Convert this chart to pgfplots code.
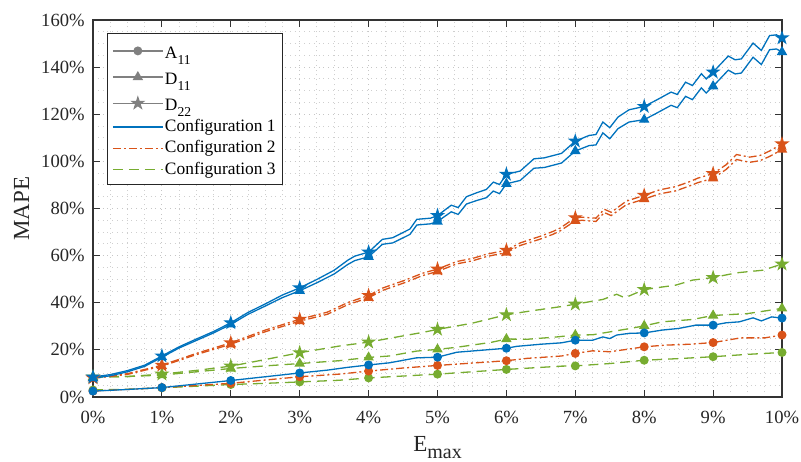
\documentclass[border=0pt]{standalone}
\usepackage{pgfplots}
\usepackage{pgfplotstable}
\pgfplotsset{compat=1.18}
\usepackage{fontspec}
\setmainfont{Liberation Serif}
\definecolor{c1}{RGB}{0,114,189}
\definecolor{c2}{RGB}{217,83,25}
\definecolor{c3}{RGB}{119,172,48}
\definecolor{lg}{RGB}{128,128,128}
\newcommand{\sub}[1]{\raisebox{-3pt}{\fontsize{6.8}{7}\selectfont #1}}
\pgfdeclareplotmark{fstar}{%
  \pgfpathmoveto{\pgfpointpolar{90}{\pgfplotmarksize}}%
  \pgfpathlineto{\pgfpointpolar{126}{0.382\pgfplotmarksize}}%
  \pgfpathlineto{\pgfpointpolar{162}{\pgfplotmarksize}}%
  \pgfpathlineto{\pgfpointpolar{198}{0.382\pgfplotmarksize}}%
  \pgfpathlineto{\pgfpointpolar{234}{\pgfplotmarksize}}%
  \pgfpathlineto{\pgfpointpolar{270}{0.382\pgfplotmarksize}}%
  \pgfpathlineto{\pgfpointpolar{306}{\pgfplotmarksize}}%
  \pgfpathlineto{\pgfpointpolar{342}{0.382\pgfplotmarksize}}%
  \pgfpathlineto{\pgfpointpolar{18}{\pgfplotmarksize}}%
  \pgfpathlineto{\pgfpointpolar{54}{0.382\pgfplotmarksize}}%
  \pgfpathclose
  \pgfusepathqfillstroke
}
% Configuration 1
\pgfplotstableread{
x y
0 2.5
0.5 3.2
1 4
1.5 5.5
2 7
2.5 8.6
3 10.2
3.4 11.4
3.7 12.6
4 13.6
4.3 14.5
4.69 16.6
5 16.9
5.28 19.0
5.62 19.8
6 20.7
6.15 21.5
6.5 22.4
6.8 23.0
7 24.1
7.25 24.1
7.4 25.5
7.5 24.8
7.6 26.3
7.78 27.0
8 27.2
8.26 28.4
8.5 29.1
8.75 30.5
9 30.5
9.19 31.5
9.38 31.9
9.58 33.6
9.7 32.3
9.85 34.0
10 33.5
}\cOneA
\pgfplotstableread{
x y
0 8.0
0.25 9.0
0.5 10.7
0.75 13.0
1 16.9
1.25 20.8
1.5 24.0
1.75 27.2
2 30.8
2.25 35.1
2.5 38.6
2.75 42.2
3 45.1
3.25 48.5
3.5 52.2
3.7 56.3
3.8 57.9
4 59.5
4.2 64.8
4.35 65.4
4.6 69.0
4.7 73.0
4.9 73.5
5 74.5
5.2 78.6
5.3 77.5
5.42 81.9
5.57 83.4
5.71 84.6
5.81 87.4
5.9 86.3
6 90.5
6.2 91.9
6.4 97.1
6.55 97.4
6.8 99.3
7 104.4
7.2 106.7
7.3 107.0
7.4 112.1
7.5 109.6
7.62 113.9
7.78 116.7
8 117.7
8.17 120.3
8.39 123.8
8.48 122.8
8.6 127.6
8.7 126.2
8.83 131.2
8.9 129.0
9 131.9
9.22 138.7
9.32 137.1
9.41 137.5
9.58 144.2
9.7 141.1
9.82 147.4
9.92 147.7
10 146.4
}\cOneDa
\pgfplotstableread{
x y
0 8.5
0.25 9.5
0.5 11.2
0.75 13.5
1 17.4
1.25 21.3
1.5 24.6
1.75 27.8
2 31.5
2.25 35.9
2.5 39.5
2.75 43.3
3 46.3
3.25 49.9
3.5 53.8
3.7 58.1
3.8 59.8
4 61.5
4.2 66.9
4.35 67.6
4.6 71.3
4.7 75.4
4.9 75.9
5 77.0
5.2 81.4
5.3 80.4
5.42 85.0
5.57 86.7
5.71 88.1
5.81 91.2
5.9 90.2
6 94.5
6.2 95.9
6.4 101.1
6.55 101.5
6.8 103.4
7 108.6
7.2 111.0
7.3 111.4
7.4 116.7
7.5 114.3
7.62 118.8
7.78 121.9
8 123.3
8.17 125.9
8.39 129.4
8.48 128.4
8.6 133.6
8.7 132.2
8.83 137.2
8.9 135.0
9 137.9
9.22 144.7
9.32 143.1
9.41 143.5
9.58 150.2
9.7 147.1
9.82 153.4
9.92 153.7
10 152.4
}\cOneDb
% Configuration 2
\pgfplotstableread{
x y
0 2.5
0.5 3.2
1 4
1.5 4.9
2 5.8
2.5 7.2
3 8.6
3.57 9.7
4 11.0
4.5 12.3
5 13.4
5.5 14.4
6 15.4
6.3 16.4
6.8 17.4
7 18.5
7.25 19.6
7.5 19.2
7.74 20.2
8 21.3
8.3 22.0
8.66 22.4
9 23.1
9.4 25.1
9.75 25.1
10 26.3
}\cTwoA
\pgfplotstableread{
x y
0 7.9
0.5 9.6
1 13.1
1.5 18.0
2 22.4
2.5 27.7
3 32.2
3.4 35.1
3.7 39.2
4 42.1
4.2 45.2
4.54 48.7
4.78 51.5
5 53.3
5.28 56.5
5.52 57.9
5.71 59.6
6 61.3
6.2 64.3
6.49 67.0
6.68 69.1
6.78 70.5
7 74.8
7.1 75.0
7.3 74.5
7.42 78.3
7.52 77.0
7.74 81.6
8 84.0
8.22 86.2
8.46 87.5
8.66 89.6
8.78 91.0
9 92.8
9.19 96.6
9.34 100.8
9.53 99.6
9.68 100.3
9.82 102.1
10 105.0
}\cTwoDa
\pgfplotstableread{
x y
0 8.1
0.5 9.9
1 13.5
1.5 18.5
2 23.0
2.5 28.4
3 33.0
3.4 36.0
3.7 40.1
4 43.1
4.2 46.2
4.54 49.7
4.78 52.5
5 54.3
5.28 57.5
5.52 58.9
5.71 60.6
6 62.3
6.2 65.4
6.49 68.2
6.68 70.3
6.78 71.7
7 76.1
7.1 76.3
7.3 75.9
7.42 79.7
7.52 78.4
7.74 83.1
8 85.6
8.22 87.9
8.46 89.3
8.66 91.4
8.78 92.9
9 94.8
9.19 98.6
9.34 102.9
9.53 101.8
9.68 102.5
9.82 104.4
10 107.4
}\cTwoDb
% Configuration 3
\pgfplotstableread{
x y
0 3.0
0.5 3.3
1 3.9
1.5 4.6
2 5.3
2.5 5.8
3 6.4
3.57 7.1
4 8.1
4.5 8.9
5 9.7
5.5 10.7
6 11.7
6.8 13.1
7 13.2
7.5 14.2
8 15.6
8.5 16.3
9 17.1
9.5 18.1
10 18.9
}\cThreeA
\pgfplotstableread{
x y
0 8.5
0.5 8.7
1 9.3
1.5 10.7
2 12.1
2.5 13.2
3 14.2
3.57 15.4
4 16.8
4.3 17.4
4.7 19.5
5 20.2
5.28 21.1
5.78 23.2
6 24.6
6.3 24.5
6.7 25.4
7 26.3
7.25 26.4
7.8 29.1
8 30.2
8.26 31.9
8.7 32.9
9 34.6
9.5 35.4
10 37.6
}\cThreeDa
\pgfplotstableread{
x y
0 8.5
0.5 8.7
1 9.7
1.5 11.3
2 13.1
2.5 15.9
3 18.8
3.57 21.6
4 23.3
4.3 24.9
4.8 27.5
5 28.7
5.5 31.3
6 34.9
6.3 36.3
6.8 38.4
7 39.4
7.4 41.4
7.6 43.6
7.72 42.1
8 45.6
8.46 47.5
8.7 49.6
9 50.7
9.34 52.7
9.72 53.8
10 56.4
}\cThreeDb
\begin{document}
\begin{tikzpicture}
\begin{axis}[
  scale only axis, width=344.5pt, height=188.5pt,
  xmin=0, xmax=10, ymin=0, ymax=160,
  xtick={0,1,...,10},
  xticklabels={0\%,1\%,2\%,3\%,4\%,5\%,6\%,7\%,8\%,9\%,10\%},
  ytick={0,20,...,160},
  yticklabels={0\%,20\%,40\%,60\%,80\%,100\%,120\%,140\%,160\%},
  minor x tick num=3, minor y tick num=3,
  tick align=inside, major tick length=3.5pt, minor tick length=0pt,
  xtick pos=both, ytick pos=both,
  tick style={black!80, line width=0.5pt},
  axis line style={black!80, line width=0.6pt},
  grid=both,
  major grid style={gray!45, line width=0.45pt, dash pattern=on 0.5pt off 1.9pt},
  minor grid style={gray!38, line width=0.45pt, dash pattern=on 0.5pt off 1.9pt},
  ticklabel style={font=\fontsize{9.3}{10}\selectfont, text=black!85},
  xticklabel style={anchor=north, inner sep=0pt, yshift=-7pt},
  yticklabel style={anchor=east, inner sep=0pt, xshift=-4pt},
  xlabel={E\raisebox{-3.6pt}{\fontsize{10}{11}\selectfont max}},
  ylabel={MAPE},
  label style={font=\fontsize{11.5}{12}\selectfont, text=black!85},
  xlabel style={at={(axis description cs:0.5,0)}, anchor=north, inner sep=0pt, yshift=-19.6pt},
  ylabel style={at={(axis description cs:-0.1038,0.5)}, anchor=center, inner sep=0pt},
  legend cell align=left,
  legend image code/.code={\draw[mark repeat=2,mark phase=2] plot coordinates {(0pt,0pt)(12.5pt,0pt)(25pt,0pt)};},
  legend style={at={(axis description cs:0,1)}, anchor=north west, xshift=6.85pt, yshift=-6.65pt,
    draw=black!85, line width=0.5pt, fill=white,
    font=\fontsize{8.7}{10}\selectfont, inner xsep=2.5pt, inner ysep=2pt, row sep=0pt,
    nodes={inner xsep=0.75pt, inner ysep=1.5pt}},
  every axis plot/.append style={line width=0.65pt},
]
\addlegendimage{lg, solid, mark=*, mark size=1.9pt}
\addlegendentry{A\sub{11}\rule[-3pt]{0pt}{11.6pt}}
\addlegendimage{lg, solid, mark=triangle*, mark size=2.4pt}
\addlegendentry{D\sub{11}\rule[-3pt]{0pt}{11.6pt}}
\addlegendimage{lg, solid, mark=fstar, mark size=2.9pt}
\addlegendentry{D\sub{22}\rule[-3pt]{0pt}{11.6pt}}
\addlegendimage{c1, solid}
\addlegendentry{Configuration 1}
\addlegendimage{c2, dash pattern=on 4pt off 1.5pt on 1pt off 1.5pt}
\addlegendentry{Configuration 2}
\addlegendimage{c3, dash pattern=on 5pt off 3pt}
\addlegendentry{Configuration 3}

\pgfplotsset{
  c1l/.style={c1, solid, no marks, forget plot},
  c2l/.style={c2, dash pattern=on 4pt off 1.5pt on 1pt off 1.5pt, no marks, forget plot},
  c3l/.style={c3, dash pattern=on 5pt off 3pt, no marks, forget plot},
  mk/.style={only marks, forget plot, unbounded coords=discard,
     x filter/.expression={abs(x-round(x))<0.001 ? x : nan}},
}
% lines
\addplot[c3l] table {\cThreeA};
\addplot[c3l] table {\cThreeDa};
\addplot[c3l] table {\cThreeDb};
\addplot[c2l] table {\cTwoA};
\addplot[c2l] table {\cTwoDa};
\addplot[c2l] table {\cTwoDb};
\addplot[c1l] table {\cOneA};
\addplot[c1l] table {\cOneDa};
\addplot[c1l] table {\cOneDb};
% markers
\addplot[c3, mk, mark=*, mark size=1.9pt] table {\cThreeA};
\addplot[c3, mk, mark=triangle*, mark size=2.4pt] table {\cThreeDa};
\addplot[c3, mk, mark=fstar, mark size=2.9pt] table {\cThreeDb};
\addplot[c2, mk, mark=*, mark size=1.9pt] table {\cTwoA};
\addplot[c2, mk, mark=triangle*, mark size=2.4pt] table {\cTwoDa};
\addplot[c2, mk, mark=fstar, mark size=2.9pt] table {\cTwoDb};
\addplot[c1, mk, mark=*, mark size=1.9pt] table {\cOneA};
\addplot[c1, mk, mark=triangle*, mark size=2.4pt] table {\cOneDa};
\addplot[c1, mk, mark=fstar, mark size=2.9pt] table {\cOneDb};
\end{axis}
\pgfresetboundingbox
\path[use as bounding box] (-46.5pt,-32pt) rectangle (354pt,198.5pt);
\end{tikzpicture}
\end{document}
